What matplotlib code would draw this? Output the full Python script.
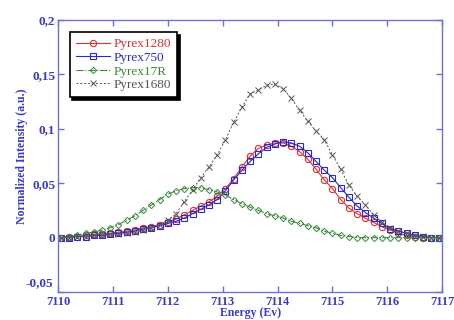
import matplotlib
matplotlib.use("Agg")
import matplotlib.pyplot as plt
from matplotlib.ticker import FuncFormatter, MultipleLocator

energy = [7110.05, 7110.20, 7110.35, 7110.50, 7110.65, 7110.80, 7110.95, 7111.10,
          7111.25, 7111.40, 7111.55, 7111.70, 7111.85, 7112.00, 7112.15, 7112.30,
          7112.45, 7112.60, 7112.75, 7112.90, 7113.05, 7113.20, 7113.35, 7113.50,
          7113.65, 7113.80, 7113.95, 7114.10, 7114.25, 7114.40, 7114.55, 7114.70,
          7114.85, 7115.00, 7115.15, 7115.30, 7115.45, 7115.60, 7115.75, 7115.90,
          7116.05, 7116.20, 7116.35, 7116.50, 7116.65, 7116.80, 7116.95]

pyrex1280 = [0.000, 0.001, 0.001, 0.002, 0.003, 0.003, 0.004, 0.005, 0.006, 0.007,
             0.009, 0.010, 0.012, 0.014, 0.017, 0.021, 0.025, 0.029, 0.033, 0.038,
             0.045, 0.054, 0.065, 0.075, 0.082, 0.085, 0.087, 0.087, 0.084, 0.079,
             0.072, 0.063, 0.053, 0.045, 0.035, 0.027, 0.022, 0.018, 0.014, 0.010,
             0.007, 0.004, 0.002, 0.001, 0.000, 0.000, 0.000]

pyrex750 = [0.000, 0.000, 0.001, 0.001, 0.002, 0.002, 0.003, 0.004, 0.005, 0.006,
            0.008, 0.009, 0.011, 0.013, 0.015, 0.018, 0.022, 0.026, 0.030, 0.035,
            0.043, 0.053, 0.062, 0.070, 0.077, 0.083, 0.086, 0.088, 0.087, 0.084,
            0.078, 0.070, 0.062, 0.055, 0.046, 0.037, 0.029, 0.023, 0.018, 0.013,
            0.008, 0.006, 0.004, 0.002, 0.001, 0.000, 0.000]

pyrex17r = [0.000, 0.001, 0.002, 0.004, 0.005, 0.007, 0.009, 0.012, 0.016, 0.020,
            0.025, 0.030, 0.035, 0.040, 0.043, 0.045, 0.046, 0.046, 0.044, 0.042,
            0.039, 0.035, 0.031, 0.028, 0.025, 0.022, 0.020, 0.018, 0.015, 0.013,
            0.011, 0.009, 0.006, 0.004, 0.002, 0.001, 0.000, 0.000, 0.000, 0.000,
            0.000, 0.000, 0.000, 0.000, 0.000, 0.000, 0.000]

pyrex1680 = [0.000, 0.000, 0.001, 0.001, 0.002, 0.002, 0.003, 0.003, 0.004, 0.005,
             0.007, 0.009, 0.012, 0.016, 0.022, 0.033, 0.044, 0.055, 0.065, 0.076,
             0.090, 0.106, 0.120, 0.132, 0.136, 0.140, 0.141, 0.137, 0.128, 0.117,
             0.107, 0.098, 0.090, 0.076, 0.063, 0.048, 0.038, 0.030, 0.021, 0.014,
             0.009, 0.006, 0.004, 0.002, 0.001, 0.000, 0.000]

plt.rcParams['font.family'] = ['Liberation Serif', 'DejaVu Serif']
blue = '#3a3acc'
axis_blue = '#7070dd'
ymin, ymax = -0.05, 0.2

fig = plt.figure(figsize=(4.54, 3.2), dpi=100)
ax = fig.add_axes([0.128, 0.0875, 0.846, 0.85])

ax.plot(energy, pyrex1280, '-', color='#e03030', lw=0.8, marker='o', ms=4.5,
        mfc='none', mew=0.8, label='Pyrex1280')
ax.plot(energy, pyrex750, '-', color='#2a2acc', lw=0.8, marker='s', ms=5,
        mfc='none', mew=0.8, label='Pyrex750')
ax.plot(energy, pyrex17r, '-.', color='#3c8a3c', lw=0.8, marker='D', ms=3.2,
        mfc='none', mew=0.7, label='Pyrex17R')
ax.plot(energy, pyrex1680, '--', color='#555555', lw=0.7, dashes=(2, 2),
        marker='x', ms=4.5, mew=0.7, label='Pyrex1680')

ax.set_xlim(7110, 7117)
ax.set_ylim(ymin, ymax)
ax.xaxis.set_major_locator(MultipleLocator(1))
ax.yaxis.set_major_locator(MultipleLocator(0.05))


def comma_fmt(v, pos):
    if abs(v) < 1e-9:
        return '0'
    if abs(v - ymin) < 1e-9:
        return ''  # drawn separately, a bit higher, so it clears "7110"
    return f'{v:g}'.replace('.', ',')


ax.yaxis.set_major_formatter(FuncFormatter(comma_fmt))
ax.xaxis.set_major_formatter(FuncFormatter(lambda v, p: f'{v:.0f}'))

ax.tick_params(direction='in', top=True, right=True, length=4, width=1,
               color=axis_blue, labelcolor=blue, labelsize=9.5, pad=2)
ax.tick_params(axis='x', pad=3, labelsize=9)
for lab in ax.get_xticklabels() + ax.get_yticklabels():
    lab.set_fontweight('bold')
for sp in ax.spines.values():
    sp.set_color(axis_blue)
    sp.set_linewidth(1)

ax.text(-0.012, ymin + 0.003, f'{ymin:g}'.replace('.', ','),
        transform=ax.get_yaxis_transform(), ha='right', va='bottom',
        color=blue, fontsize=9.5, fontweight='bold')

ax.set_xlabel('Energy (Ev)', color=blue, fontsize=8.5, fontweight='bold', labelpad=-1)
ax.set_ylabel('Normalized Intensity (a.u.)', color=blue, fontsize=8.5,
              fontweight='bold', labelpad=3)

leg = ax.legend(loc='upper left', bbox_to_anchor=(0.03, 0.955), borderaxespad=0,
                fancybox=False, shadow={'color': 'black', 'alpha': 1},
                edgecolor='black', fontsize=9.5, handlelength=2.6,
                labelspacing=0.1, borderpad=0.45, handletextpad=0.3)
leg.get_frame().set_linewidth(1.2)
for txt, line in zip(leg.get_texts(), leg.get_lines()):
    txt.set_color(line.get_color())

fig.savefig('out.png', dpi=100)
